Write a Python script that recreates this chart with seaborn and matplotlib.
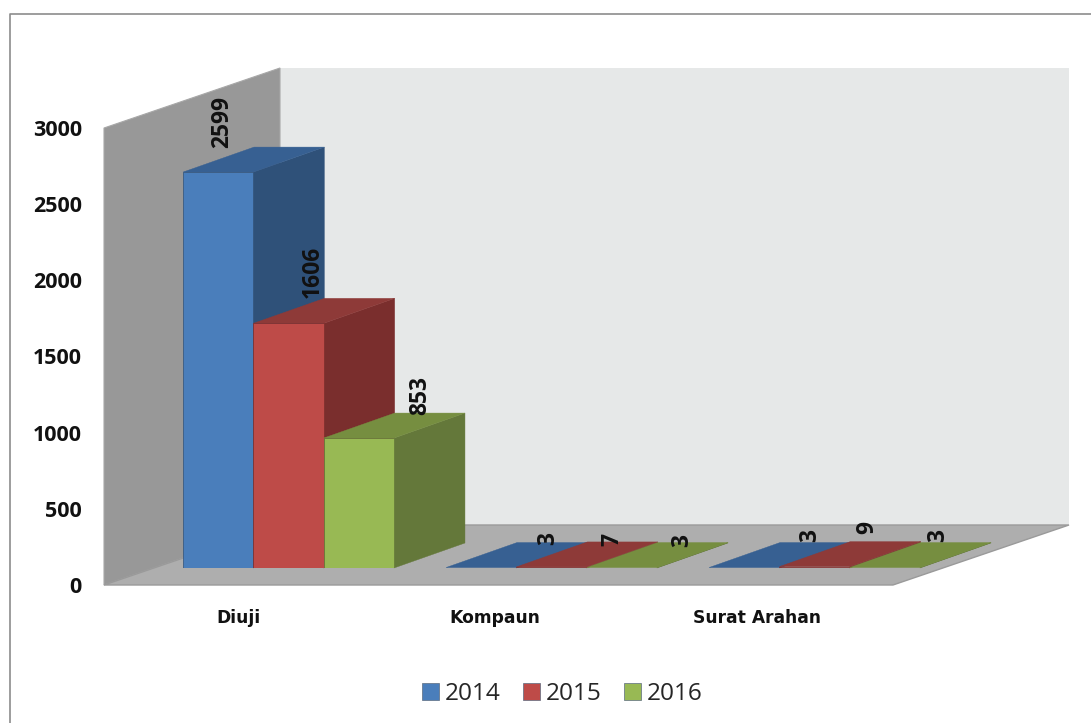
import pandas as pd
import matplotlib
matplotlib.use('Agg')
import matplotlib.pyplot as plt
import seaborn as sns
from matplotlib.lines import Line2D
from matplotlib.patches import Polygon

# ── Data ──────────────────────────────────────────────────────────────────────
categories = ['Diuji', 'Kompaun', 'Surat Arahan']
years = ['2014', '2015', '2016']
values_2014 = [2599, 3, 3]
values_2015 = [1606, 7, 9]
values_2016 = [853, 3, 3]
yticks = [0, 500, 1000, 1500, 2000, 2500, 3000]

df = pd.DataFrame({
    'kategori': categories * 3,
    'tahun': [y for y in years for _ in categories],
    'nilai': values_2014 + values_2015 + values_2016,
})

# ── Layout (pixels) ───────────────────────────────────────────────────────────
W, H = 1091, 723
CAT_PX = 263
PX_PER_UNIT = 457 / 3000
FRONT_COLORS = ['#4A7EBB', '#BE4B48', '#98B954']
SIDE_COLORS = ['#2F5179', '#7A2E2D', '#64783A']
TOP_COLORS = ['#376092', '#8E3A38', '#768E40']
# label placement relative to each bar's front top-left corner, by category then year
LABEL_DX = [[39, 102, 101], [59.5, 96, 88], [97, 95.5, 89]]
LABEL_DY = [[24, 22.5, 25.5], [25, 20.5, 33], [23, 21, 25.5]]

sns.set_theme(style='white')
plt.rcParams['font.family'] = ['Open Sans', 'DejaVu Sans']


def add_axes_px(fig, left, top, bottom):
    return fig.add_axes([left / W, 1 - bottom / H, CAT_PX * 3 / W, (bottom - top) / H])


fig = plt.figure(figsize=(W / 100, H / 100), dpi=100, facecolor='white')
fig.add_artist(Line2D([10 / W, 10 / W, 1], [0, 1 - 14 / H, 1 - 14 / H],
                      color='#8c8c8c', lw=1.2, transform=fig.transFigure))

# ── Walls and floor, front plane axes ─────────────────────────────────────────
ax_front = add_axes_px(fig, 104, 128, 585)
ax_front.set_xlim(-0.5, 2.5)
ax_front.set_ylim(0, 3000)
ax_front.patch.set_alpha(0)
sns.despine(ax=ax_front, left=True, bottom=True)

dx = 176 / CAT_PX
dy = 60 / PX_PER_UNIT
x0, x1 = -0.5, 2.5
ax_front.add_patch(Polygon([(x0 + dx, dy), (x1 + dx, dy), (x1 + dx, 3000 + dy), (x0 + dx, 3000 + dy)],
                           fc='#E6E8E8', ec='none', clip_on=False, zorder=1))
ax_front.add_patch(Polygon([(x0, 0), (x0, 3000), (x0 + dx, 3000 + dy), (x0 + dx, dy)],
                           fc='#989898', ec='#a8a8a8', lw=0.8, clip_on=False, zorder=2))
ax_front.add_patch(Polygon([(x0, 0), (x1, 0), (x1 + dx, dy), (x0 + dx, dy)],
                           fc='#AEAEAE', ec='#9a9a9a', lw=1.0, clip_on=False, zorder=3))

ax_front.set_yticks(yticks)
ax_front.set_xticks([0.01, 0.987, 1.983])
ax_front.set_xticklabels(categories, family=['DejaVu Sans'],
                         fontsize=12.3, fontweight='bold', color='#111111')
ax_front.set_yticklabels([str(t) for t in yticks], fontsize=15.5, fontweight='bold', color='#111111')
ax_front.tick_params(axis='x', length=0, pad=17)
ax_front.tick_params(axis='y', length=0, pad=16)

# ── Bars, plane set back from the front edge ──────────────────────────────────
ax = add_axes_px(fig, 157, 111, 568)
sns.barplot(data=df, x='kategori', y='nilai', hue='tahun', order=categories, hue_order=years,
            palette=FRONT_COLORS, saturation=1, width=0.802, gap=0,
            edgecolor='#5b6b80', linewidth=0.5, ax=ax)
ax.set_xlim(-0.5, 2.5)
ax.set_ylim(0, 3000)
ax.patch.set_alpha(0)

bar_dx = 71 / CAT_PX
bar_dy = 25 / PX_PER_UNIT
for h, cont in enumerate(ax.containers):
    for c, bar in enumerate(cont):
        left, width, height = bar.get_x(), bar.get_width(), bar.get_height()
        right = left + width
        z = 10 + c * 10 + h * 3
        bar.set_zorder(z + 2)
        bar.set_edgecolor(SIDE_COLORS[h])
        ax.add_patch(Polygon([(right, 0), (right + bar_dx, bar_dy), (right + bar_dx, height + bar_dy), (right, height)],
                             fc=SIDE_COLORS[h], ec=SIDE_COLORS[h], lw=0.3, clip_on=False, zorder=z))
        ax.add_patch(Polygon([(left, height), (right, height), (right + bar_dx, height + bar_dy), (left + bar_dx, height + bar_dy)],
                             fc=TOP_COLORS[h], ec=TOP_COLORS[h], lw=0.3, clip_on=False, zorder=z + 1))
        ax.annotate(str(int(height)), xy=(left, height), xycoords='data',
                    xytext=(LABEL_DX[h][c], LABEL_DY[h][c]), textcoords='offset pixels',
                    rotation=90, ha='center', va='bottom', fontsize=16.5, fontweight='bold',
                    color='#111111', annotation_clip=False, zorder=100)

sns.move_legend(ax, 'center', bbox_to_anchor=(562.5 / W, 1 - 694 / H),
                bbox_transform=fig.transFigure, ncols=3, frameon=False, title=None,
                fontsize=17.6, handlelength=0.695, handleheight=0.695,
                handletextpad=0.25, columnspacing=0.9, labelcolor='#262626')
ax.axis('off')

fig.savefig('out.png', dpi=100, facecolor='white')
